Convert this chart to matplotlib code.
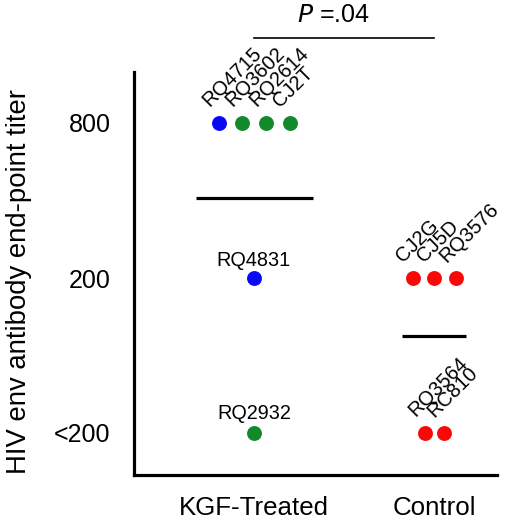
import matplotlib
matplotlib.use("Agg")
import matplotlib.pyplot as plt

plt.rcParams['font.family'] = ['Liberation Sans', 'DejaVu Sans']

# Data
groups = ["KGF-Treated", "Control"]
titer_labels = ["<200", "200", "800"]

animals = ["RQ4715", "RQ3602", "RQ2614", "CJ2T", "RQ4831", "RQ2932",
           "CJ2G", "CJ5D", "RQ3576", "RQ3564", "RC810"]
animal_group = [0, 0, 0, 0, 0, 0, 1, 1, 1, 1, 1]
animal_titer = [2, 2, 2, 2, 1, 0, 1, 1, 1, 0, 0]
animal_jitter = [-0.194, -0.067, 0.067, 0.2, 0.0, 0.0,
                 -0.117, 0.0, 0.122, -0.05, 0.056]
animal_color = ["#0808f5", "#128a2c", "#128a2c", "#128a2c", "#0808f5", "#128a2c",
                "#fa0808", "#fa0808", "#fa0808", "#fa0808", "#fa0808"]
label_rotated = [True, True, True, True, False, False, True, True, True, True, True]

group_mean = [1.516, 0.626]
mean_halfwidth = [0.325, 0.18]

p_text = ".04"

fig = plt.figure(figsize=(5.2, 5.19), dpi=100)
ax = fig.add_axes([134/520, 1-475/519, (497-134)/520, (475-72)/519])
ax.set_xlim(1 - 120/180 - 1, 2 + 63/180 - 1)
ax.set_ylim(-42/155, 2 + 51/155)

for i, name in enumerate(animals):
    x = animal_group[i] + animal_jitter[i]
    y = animal_titer[i]
    ax.scatter([x], [y], s=115, color=animal_color[i], zorder=3, linewidths=0, clip_on=False)
    if label_rotated[i]:
        ax.annotate(name, (x, y), xytext=(-5, 9), textcoords='offset points',
                    rotation=45, rotation_mode='anchor', ha='left', va='bottom',
                    fontsize=14.5)
    else:
        ax.annotate(name, (x, y), xytext=(0, 9 if y > 0 else 10), textcoords='offset points',
                    ha='center', va='baseline', fontsize=14.3)

for g, (m, hw) in enumerate(zip(group_mean, mean_halfwidth)):
    ax.plot([g - hw, g + hw], [m, m], color='black', lw=2.3, solid_capstyle='butt')

# significance bar
ax.plot([0, 1], [2.548, 2.548], color='black', lw=1.2, clip_on=False)
ax.text(0.44, 2.65, r"$\it{P}$ =" + p_text, ha='center', va='baseline', fontsize=18)

ax.set_xticks(range(len(groups)))
ax.set_xticklabels(groups, fontsize=18.6)
ax.set_yticks(range(len(titer_labels)))
ax.set_yticklabels(titer_labels, fontsize=18)
ax.tick_params(axis='both', length=0)
ax.tick_params(axis='y', pad=17)
ax.tick_params(axis='x', pad=15)

for s in ['top', 'right']:
    ax.spines[s].set_visible(False)
for s in ['left', 'bottom']:
    ax.spines[s].set_linewidth(2.3)

fig.text(19/520, 1-282/519, "HIV env antibody end-point titer", rotation=90,
         ha='center', va='center', fontsize=19.8)

fig.savefig("out.png", dpi=100)
